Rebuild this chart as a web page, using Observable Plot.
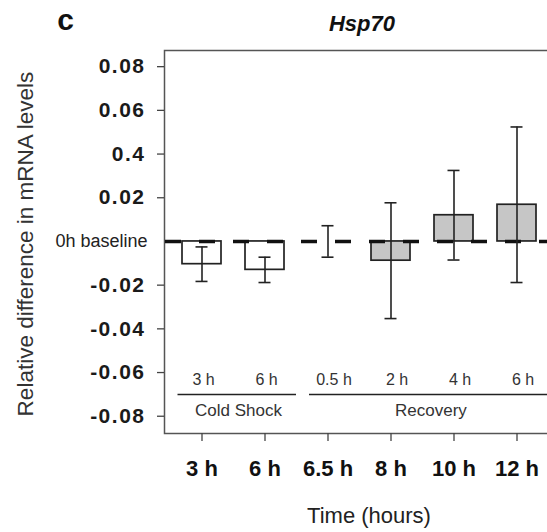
<!DOCTYPE html>
<html><head><meta charset="utf-8">
<script src="https://cdn.jsdelivr.net/npm/d3@7"></script>
<script src="https://cdn.jsdelivr.net/npm/@observablehq/plot@0.6"></script>
<style>
body{margin:0;background:#fff}
#chart svg{display:block}
#chart [aria-label="y-axis tick label"] text{letter-spacing:1.5px}
</style></head><body><div id="chart"></div>
<script>
const times = ["3 h","6 h","6.5 h","8 h","10 h","12 h"];
const subLabels = ["3 h","6 h","0.5 h","2 h","4 h","6 h"];
const phases = ["Cold Shock","Cold Shock","Recovery","Recovery","Recovery","Recovery"];
const means = [-0.0104, -0.0130, 0, -0.0088, 0.0120, 0.0168];
const errors = [0.0079, 0.0058, 0.0072, 0.0265, 0.0205, 0.0356];
const yTickValues = [0.08, 0.06, 0.04, 0.02, -0.02, -0.04, -0.06, -0.08];
const yTickLabels = ["0.08","0.06","0.4","0.02","-0.02","-0.04","-0.06","-0.08"];
const baselineLabel = "0h baseline";
const groups = ["Cold Shock","Recovery"];
const panelLetter = "c";
const title = "Hsp70";
const yLabel = "Relative difference in mRNA levels";
const xLabel = "Time (hours)";

const data = times.map((t, i) => ({t, sub: subLabels[i], phase: phases[i], v: means[i], e: errors[i]}));
const groupData = groups.map(g => {
  const members = data.filter(d => d.phase === g);
  return {g, first: members[0].t, last: members[members.length - 1].t};
});

const chart = Plot.plot({
  width: 547,
  height: 532,
  marginLeft: 164,
  marginRight: -6,
  marginTop: 50,
  marginBottom: 99,
  style: {fontFamily: "Liberation Sans, Arial, sans-serif", background: "#fff"},
  x: {domain: times, paddingInner: 0.385, paddingOuter: 0.26, axis: null},
  y: {domain: [-0.0879, 0.0874], axis: null},
  color: {domain: groups, range: ["#ffffff", "#c6c6c6"]},
  marks: [
    Plot.frame({stroke: "#555", strokeWidth: 1.5}),
    Plot.barY(data.filter(d => d.v !== 0), {x: "t", y1: 0, y2: "v", fill: d => d.phase, stroke: "#222", strokeWidth: 1.7}),
    Plot.ruleY([0], {stroke: "#111", strokeWidth: 3.5, strokeDasharray: "16,18", dx: 1}),
    Plot.ruleX(data, {x: "t", y1: d => d.v - d.e, y2: d => d.v + d.e, stroke: "#222", strokeWidth: 1.6}),
    Plot.tickY(data, {x: "t", y: d => d.v - d.e, stroke: "#222", strokeWidth: 1.6, insetLeft: 13.5, insetRight: 13.5}),
    Plot.tickY(data, {x: "t", y: d => d.v + d.e, stroke: "#222", strokeWidth: 1.6, insetLeft: 13.5, insetRight: 13.5}),
    Plot.axisY({ticks: yTickValues, tickFormat: (d) => yTickLabels[yTickValues.indexOf(d)], tickSize: 7, tickPadding: 12,
      fontSize: 21, fontWeight: "bold", fill: "#1a1a1a", stroke: "#444", strokeWidth: 1.3, label: null}),
    Plot.text([0], {y: d => d, text: () => baselineLabel, frameAnchor: "left", textAnchor: "end", dx: -17, fontSize: 18, fill: "#222"}),
    Plot.axisX({tickSize: 8, tickPadding: 19, fontSize: 22, fontWeight: "bold", fill: "#111", stroke: "#444", strokeWidth: 1.3, label: null}),
    // in-frame sub labels
    Plot.text(data.filter(d => d.phase === groups[0]), {x: "t", text: "sub", frameAnchor: "bottom", lineAnchor: "middle", dy: -53.5, dx: 1.5, fontSize: 16, fill: "#333"}),
    Plot.text(data.filter(d => d.phase === groups[1]), {x: "t", text: "sub", frameAnchor: "bottom", lineAnchor: "middle", dy: -53.5, dx: 6, fontSize: 16, fill: "#333"}),
    // group lines
    Plot.ruleY(groupData.slice(0, 1), {x1: "first", x2: "last", y: -0.07, stroke: "#222", strokeWidth: 1.5, insetLeft: -4.5, insetRight: -12}),
    Plot.ruleY(groupData.slice(1), {x1: "first", x2: "last", y: -0.07, stroke: "#222", strokeWidth: 1.5, insetLeft: 1, insetRight: -60}),
    Plot.text(groupData.slice(0, 1), {x: "first", text: "g", frameAnchor: "bottom", lineAnchor: "middle", textAnchor: "start", dx: -7, dy: -23, fontSize: 17, fill: "#333"}),
    Plot.text(groupData.slice(1), {x: d => times[3], text: "g", frameAnchor: "bottom", lineAnchor: "middle", textAnchor: "start", dx: 4, dy: -23, fontSize: 17, fill: "#333"}),
    // titles
    Plot.text([title], {text: d => d, frameAnchor: "top", lineAnchor: "middle", dx: 3, dy: -27, fontSize: 22, fontWeight: "bold", fontStyle: "italic", fill: "#111"}),
    Plot.text([panelLetter], {text: d => d, frameAnchor: "top-left", lineAnchor: "middle", textAnchor: "middle", dx: -99, dy: -30, fontSize: 30, fontWeight: "bold", fill: "#111"}),
    Plot.text([yLabel], {text: d => d, frameAnchor: "left", textAnchor: "middle", lineAnchor: "middle", rotate: -90, dx: -139, dy: 2, fontSize: 22.5, fill: "#333"}),
    Plot.text([xLabel], {text: d => d, frameAnchor: "bottom", lineAnchor: "middle", dx: 10, dy: 82, fontSize: 22, fill: "#222"})
  ]
});
document.getElementById("chart").appendChild(chart);
</script></body></html>
